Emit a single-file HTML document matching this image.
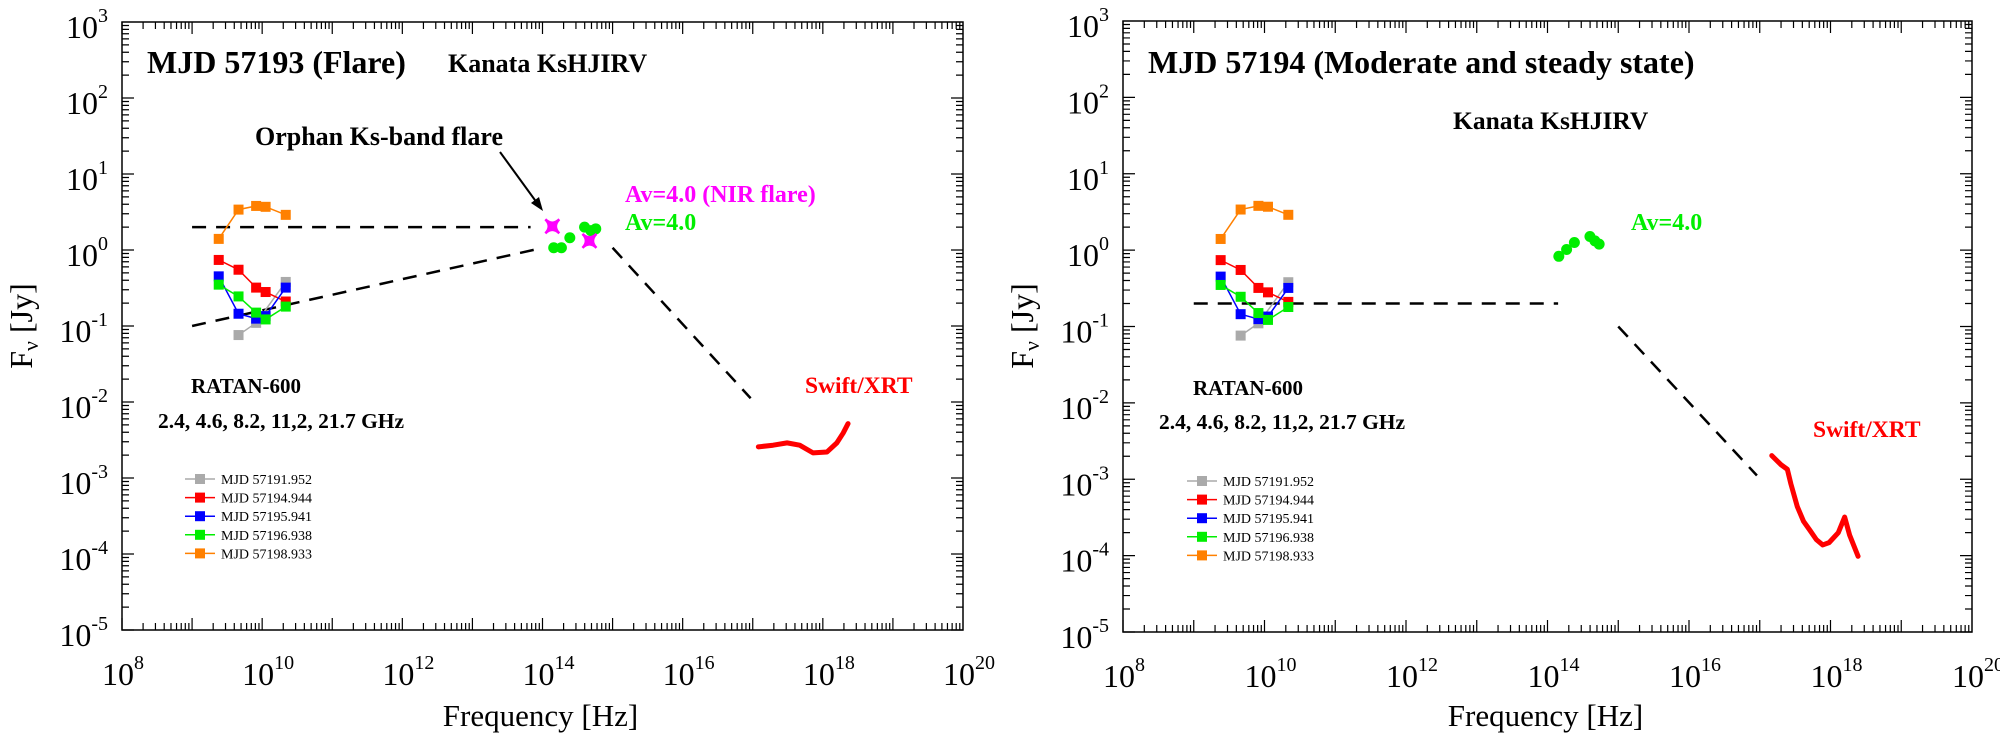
<!DOCTYPE html>
<html><head><meta charset="utf-8"><style>
html,body{margin:0;padding:0;background:#fff;}
svg{display:block;font-family:"Liberation Serif",serif;}
</style></head><body>
<svg id="chart" width="2000" height="737" viewBox="0 0 2000 737" xmlns="http://www.w3.org/2000/svg"></svg>
<script>
// ---- data (log10 frequency in Hz, flux in Jy) ----
const radioFreqGHz = [2.4, 4.6, 8.2, 11.2, 21.7];
const radioDates = ["MJD 57191.952","MJD 57194.944","MJD 57195.941","MJD 57196.938","MJD 57198.933"];
const radioColors = ["#aaaaaa","#ff0000","#0000ff","#00ee00","#ff8000"];
const fluxGray   = [null, 0.076, 0.11, null, 0.38];
const fluxRed    = [0.74, 0.55, 0.32, 0.28, 0.21];
const fluxBlue   = [0.45, 0.145, 0.125, 0.135, 0.32];
const fluxGreen  = [0.35, 0.245, 0.15, 0.122, 0.18];
const fluxOrange = [1.4, 3.4, 3.8, 3.7, 2.9];
const radioSeries = [fluxGray, fluxRed, fluxBlue, fluxGreen, fluxOrange];

// left panel (flare)
const flareOptLogNu = [14.16, 14.27, 14.39, 14.60, 14.69, 14.76];
const flareOptFlux  = [1.07, 1.07, 1.45, 2.0, 1.8, 1.9];
const flareStarLogNu = [14.14, 14.67];
const flareStarFlux  = [2.05, 1.32];
const flareXrtLogNu = [17.08, 17.29, 17.49, 17.67, 17.86, 18.06, 18.20, 18.29, 18.36];
const flareXrtFlux  = [0.00257, 0.0027, 0.0029, 0.0027, 0.00214, 0.0022, 0.0029, 0.0039, 0.0052];
const flareDashH = [[9.0, 2.0], [13.83, 2.0]];
const flareDashRise = [[9.0, 0.1], [14.01, 1.07]];
const flareDashFall = [[15.0, 1.07], [16.97, 0.0112]];

// right panel (steady)
const steadyOptLogNu = [14.16, 14.27, 14.38, 14.60, 14.67, 14.73];
const steadyOptFlux  = [0.83, 1.02, 1.26, 1.51, 1.32, 1.2];
const steadyXrtLogNu = [17.17, 17.30, 17.39, 17.44, 17.53, 17.62, 17.71, 17.80, 17.89, 17.98, 18.11, 18.20, 18.27, 18.39];
const steadyXrtFlux  = [0.00204, 0.00155, 0.00135, 0.00087, 0.00044, 0.00028, 0.000214, 0.000162, 0.000138, 0.000148, 0.0002, 0.00032, 0.000186, 0.000098];
const steadyDashH = [[9.0, 0.2], [14.15, 0.2]];
const steadyDashFall = [[15.0, 0.1], [16.96, 0.00112]];

const xTickExps = [8, 10, 12, 14, 16, 18, 20];
const yTickExps = [3, 2, 1, 0, -1, -2, -3, -4, -5];

const NS = "http://www.w3.org/2000/svg";
const svg = document.getElementById('chart');
function mk(tag, attrs, parent) {
  const e = document.createElementNS(NS, tag);
  for (const k in attrs) e.setAttribute(k, attrs[k]);
  (parent || svg).appendChild(e);
  return e;
}

function panel(P) {
  const g = mk('g', {});
  
  
  const xs = lv => P.x0 + (lv - 8) / 12 * (P.x1 - P.x0);
  const ys = lf => P.y0 + (3 - lf) / 8 * (P.y1 - P.y0);
  const yF = f => ys(Math.log10(f));
  const xHz = ghz => xs(Math.log10(ghz * 1e9));

  const fr = mk('rect', {x:P.x0, y:P.y0, width:P.x1-P.x0, height:P.y1-P.y0, fill:'none', stroke:'#000', 'stroke-width':1.5}, g);
  
  
  let td = '';
  for (let d = 8; d < 20; d++) {
    for (let m = 1; m <= 9; m++) {
      const x = xs(d + Math.log10(m));
      const L = m === 1 ? 12 : 7;
      td += `M${x},${P.y1}v${-L}M${x},${P.y0}v${L}`;
    }
  }
  for (let d = -5; d < 3; d++) {
    for (let m = 1; m <= 9; m++) {
      const y = ys(d + Math.log10(m));
      const L = m === 1 ? 12 : 7;
      td += `M${P.x0},${y}h${L}M${P.x1},${y}h${-L}`;
    }
  }
  const tk = mk('path', {d: td, stroke:'#000', 'stroke-width':1.2, fill:'none'}, g);
  
  

  xTickExps.forEach(e => {
    const t = mk('text', {x: xs(e) - 20, y: P.y1 + 55, 'font-size': 32}, g);
    
    
    t.textContent = '10';
    const s = mk('tspan', {dy: -16, 'font-size': 20}, t);
    s.textContent = String(e);
  });
  yTickExps.forEach(e => {
    const t = mk('text', {x: P.x0 - 14, y: ys(e) + 16, 'font-size': 32, 'text-anchor':'end'}, g);
    
    
    t.textContent = '10';
    const s = mk('tspan', {dy: -16, 'font-size': 20}, t);
    s.textContent = String(e);
  });
  const xt = mk('text', {x:(P.x0+P.x1)/2 - 2, y: 726, 'font-size': 31, 'text-anchor':'middle'}, g);
  
  
  xt.textContent = 'Frequency [Hz]';
  const yt = mk('text', {x: 0, y: 0, 'font-size': 32, 'text-anchor':'middle', transform:`translate(${P.x0-90},326) rotate(-90)`}, g);
  
  
  yt.textContent = 'F';
  const sub = mk('tspan', {'font-size': 22, dy: 6}, yt); sub.textContent = 'ν';
  const rest = mk('tspan', {dy: -6}, yt); rest.textContent = ' [Jy]';

  P.dashes.forEach(seg => {
    const l = mk('line', {x1: xs(seg[0][0]), y1: yF(seg[0][1]), x2: xs(seg[1][0]), y2: yF(seg[1][1]), stroke:'#000', 'stroke-width':2.5, 'stroke-dasharray':'14,10'}, g);
    
    
  });

  radioSeries.forEach((ser, si) => {
    const pts = [];
    ser.forEach((v, i) => { if (v !== null) pts.push([xHz(radioFreqGHz[i]), yF(v)]); });
    const pl = mk('polyline', {points: pts.map(p => p.join(',')).join(' '), fill:'none', stroke: radioColors[si], 'stroke-width':1.5}, g);
    
    
    pts.forEach(p => {
      const r = mk('rect', {x: p[0]-5, y: p[1]-5, width:10, height:10, fill: radioColors[si]}, g);
      
      
    });
  });

  P.optNu.forEach((v, i) => {
    const c = mk('circle', {cx: xs(v), cy: yF(P.optF[i]), r: 5.5, fill:'#00ee00'}, g);
    
    
  });
  (P.starNu || []).forEach((v, i) => {
    const cx = xs(v), cy = yF(P.starF[i]), s = 7;
    const st = mk('path', {d:`M${cx-s},${cy-s}Q${cx},${cy} ${cx+s},${cy-s}Q${cx},${cy} ${cx+s},${cy+s}Q${cx},${cy} ${cx-s},${cy+s}Q${cx},${cy} ${cx-s},${cy-s}Z`, fill:'#ff00ff', stroke:'#ff00ff', 'stroke-width':2.5}, g);
    
    
  });

  const xp = P.xrtNu.map((v, i) => xs(v) + ',' + yF(P.xrtF[i])).join(' ');
  const xr = mk('polyline', {points: xp, fill:'none', stroke:'#ff0000', 'stroke-width':5, 'stroke-linejoin':'round', 'stroke-linecap':'round'}, g);
  
  

  radioDates.forEach((d, i) => {
    const y = P.legY + i * 18.6;
    const l = mk('line', {x1: P.legX, y1: y, x2: P.legX + 30, y2: y, stroke: radioColors[i], 'stroke-width':1.5}, g);
    
    
    const r = mk('rect', {x: P.legX + 10, y: y - 5, width:10, height:10, fill: radioColors[i]}, g);
    
    
    const t = mk('text', {x: P.legX + 36, y: y + 5, 'font-size': 14}, g);
    
    
    t.textContent = d;
  });

  P.labels.forEach(L => {
    const t = mk('text', {x: L[0], y: L[1], 'font-size': L[3], 'font-weight':'bold', fill: L[4]}, g);
    
    
    t.textContent = L[2];
  });
  return g;
}

panel({name:'flare-panel', x0:122, x1:963, y0:22, y1:630,
  dashes:[flareDashH, flareDashRise, flareDashFall],
  optNu: flareOptLogNu, optF: flareOptFlux, starNu: flareStarLogNu, starF: flareStarFlux,
  xrtNu: flareXrtLogNu, xrtF: flareXrtFlux, legX:185, legY:479,
  labels:[[147,73,'MJD 57193 (Flare)',32,'#000','panel-title'],
          [448,72,'Kanata KsHJIRV',26,'#000','kanata-label'],
          [255,145,'Orphan Ks-band flare',26,'#000','orphan-flare-label'],
          [625,202,'Av=4.0 (NIR flare)',24,'#ff00ff','nir-flare-av-label'],
          [625,230,'Av=4.0',24,'#00ee00','optical-av-label'],
          [805,393,'Swift/XRT',23.5,'#ff0000','swift-xrt-label'],
          [191,393,'RATAN-600',21,'#000','ratan-label'],
          [158,428,'2.4, 4.6, 8.2, 11,2, 21.7 GHz',21.5,'#000','ratan-frequencies-label']]
});
const arrow = mk('path', {d:'M500,152L540,207', stroke:'#000', 'stroke-width':2, fill:'none'});


const head = mk('path', {d:'M543,211L531,203L539,197Z', fill:'#000'});



panel({name:'steady-panel', x0:1123, x1:1972, y0:21, y1:632,
  dashes:[steadyDashH, steadyDashFall],
  optNu: steadyOptLogNu, optF: steadyOptFlux,
  xrtNu: steadyXrtLogNu, xrtF: steadyXrtFlux, legX:1187, legY:481,
  labels:[[1148,73,'MJD 57194 (Moderate and steady state)',32,'#000','panel-title'],
          [1453,129,'Kanata KsHJIRV',25.5,'#000','kanata-label'],
          [1631,230,'Av=4.0',24,'#00ee00','optical-av-label'],
          [1813,437,'Swift/XRT',23.5,'#ff0000','swift-xrt-label'],
          [1193,395,'RATAN-600',21,'#000','ratan-label'],
          [1159,429,'2.4, 4.6, 8.2, 11,2, 21.7 GHz',21.5,'#000','ratan-frequencies-label']]
});
</script>
</body></html>
